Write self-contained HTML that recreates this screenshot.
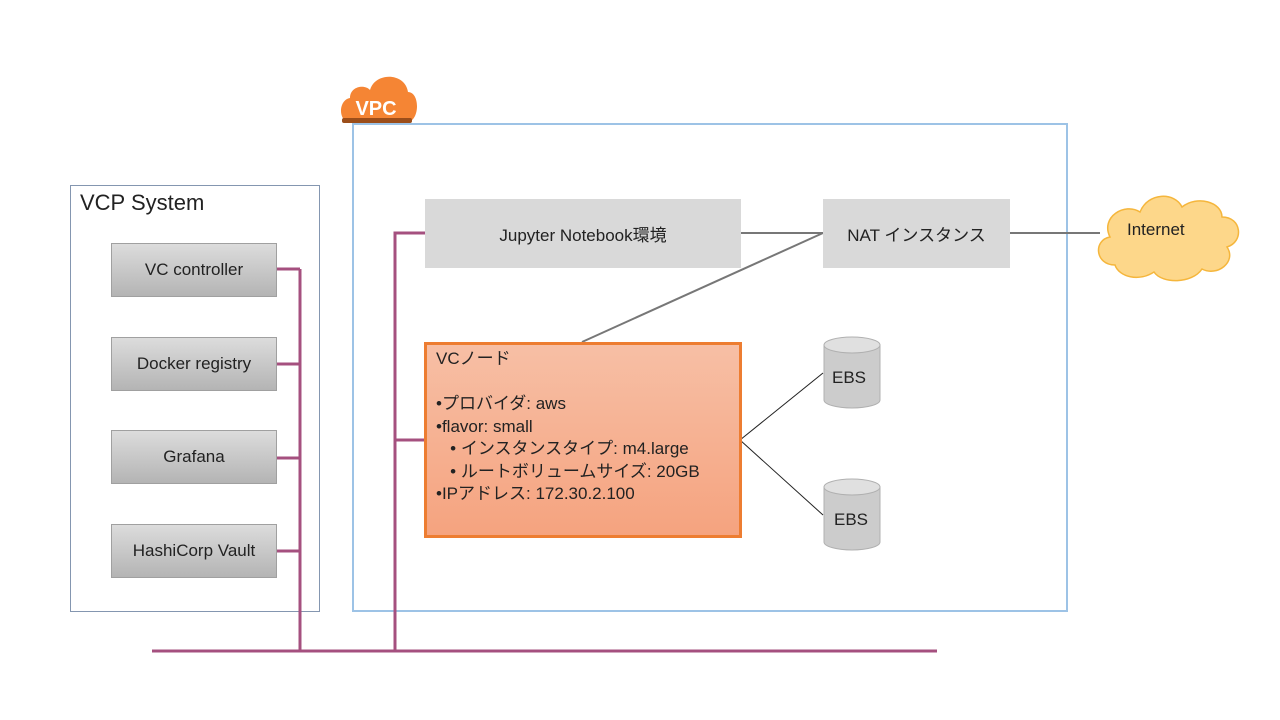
<!DOCTYPE html>
<html><head><meta charset="utf-8"><style>
body{margin:0;width:1280px;height:720px;background:#fff;position:relative;overflow:hidden;font-family:"Liberation Sans","Noto Sans CJK JP",sans-serif;color:#222}
.a{position:absolute;box-sizing:border-box}
.g{background:linear-gradient(#dcdcdc,#b4b4b4);border:1px solid #a0a0a0;font-size:17px;display:flex;align-items:center;justify-content:center}
.l{background:#d9d9d9;font-size:17px;display:flex;align-items:center;justify-content:center}
</style></head><body>
<svg class="a" style="left:0;top:0" width="1280" height="720">
<rect x="70.5" y="185.5" width="249" height="426" fill="none" stroke="#8496b0"/>
<rect x="353" y="124" width="714" height="487" fill="none" stroke="#9dc3e6" stroke-width="2"/>
<g stroke="#a5507f" stroke-width="3" fill="none">
<line x1="152" y1="651" x2="937" y2="651"/>
<line x1="300" y1="269" x2="300" y2="651"/>
<polyline points="276,269 300,269"/><polyline points="276,364 300,364"/><polyline points="276,458 300,458"/><polyline points="276,551 300,551"/>
<polyline points="425,233 395,233 395,651"/><line x1="395" y1="440" x2="425" y2="440"/>
</g>
<g stroke="#777" stroke-width="2">
<line x1="740" y1="233" x2="823" y2="233"/><line x1="582" y1="342" x2="823" y2="233"/>
<line x1="1010" y1="233" x2="1100" y2="233"/>
</g>
<g stroke="#222" stroke-width="1"><line x1="740" y1="440" x2="823" y2="373"/><line x1="740" y1="440" x2="823" y2="515"/></g>
<g fill="#ccc" stroke="#b0b0b0">
<path d="M824,345 v55 a28,8 0 0 0 56,0 v-55z"/><ellipse cx="852" cy="345" rx="28" ry="8" fill="#e0e0e0"/>
<path d="M824,487 v55 a28,8 0 0 0 56,0 v-55z"/><ellipse cx="852" cy="487" rx="28" ry="8" fill="#e0e0e0"/>
</g>
<path d="M1115,265 c-20,0 -22,-25 -5,-28 c-10,-20 15,-35 30,-25 c8,-20 35,-20 42,-5 c15,-12 40,-5 40,10 c20,0 22,25 5,30 c10,15 -10,30 -25,22 c-10,15 -40,15 -48,3 c-15,10 -35,5 -39,-7z" fill="#fdd78a" stroke="#f5b63c" stroke-width="1.5"/>
<path d="M350,122 c-12,0 -12,-22 0,-24 c0,-12 15,-14 20,-8 c5,-18 35,-18 38,2 c12,0 12,28 0,30z" fill="#f58534"/>
<rect x="342" y="118" width="70" height="5" fill="#9c4e1a" rx="2"/>
<text x="376" y="115" font-size="20" font-weight="bold" fill="#fff" text-anchor="middle" font-family="Liberation Sans">VPC</text>
</svg>
<div class="a" style="left:80px;top:190px;font-size:22px">VCP System</div>
<div class="a g" style="left:111px;top:243px;width:166px;height:54px">VC controller</div>
<div class="a g" style="left:111px;top:337px;width:166px;height:54px">Docker registry</div>
<div class="a g" style="left:111px;top:430px;width:166px;height:54px">Grafana</div>
<div class="a g" style="left:111px;top:524px;width:166px;height:54px">HashiCorp Vault</div>
<div class="a l" style="left:425px;top:199px;width:316px;height:69px">Jupyter Notebook環境</div>
<div class="a l" style="left:823px;top:199px;width:187px;height:69px">NAT インスタンス</div>
<div class="a" style="left:1127px;top:220px;font-size:17px">Internet</div>
<div class="a" style="left:424px;top:342px;width:318px;height:196px;border:3px solid #ed7d31;background:linear-gradient(#f7bfa5,#f5a37f);padding:3px 0 0 9px;font-size:17px;line-height:22.5px;white-space:pre">VCノード

•プロバイダ: aws
•flavor: small
   • インスタンスタイプ: m4.large
   • ルートボリュームサイズ: 20GB
•IPアドレス: 172.30.2.100</div>
<div class="a" style="left:832px;top:368px;font-size:17px">EBS</div>
<div class="a" style="left:834px;top:510px;font-size:17px">EBS</div>
</body></html>
